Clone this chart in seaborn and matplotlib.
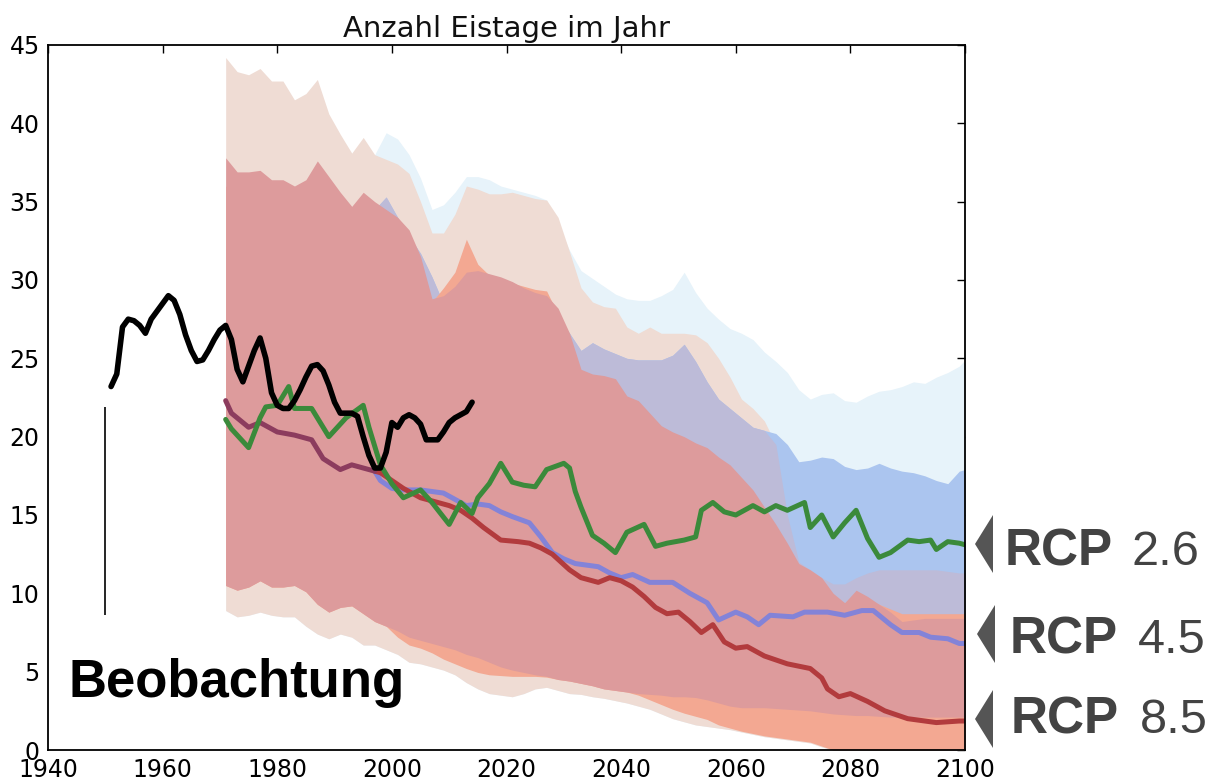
import numpy as np
import pandas as pd
import matplotlib
matplotlib.use("Agg")
import matplotlib.pyplot as plt
import seaborn as sns
from matplotlib.patches import Polygon

sns.set_theme(style="white")
plt.rcParams['font.family'] = ['DejaVu Sans']

# ---------------- data ----------------
band_years = [1971, 1973, 1975, 1977, 1979, 1981, 1983, 1985, 1987, 1989,
              1991, 1993, 1995, 1997, 1999, 2001, 2003, 2005, 2007, 2009,
              2011, 2013, 2015, 2017, 2019, 2021, 2023, 2025, 2027, 2029,
              2031, 2033, 2035, 2037, 2039, 2041, 2043, 2045, 2047, 2049,
              2051, 2053, 2055, 2057, 2059, 2061, 2063, 2065, 2067, 2069,
              2071, 2073, 2075, 2077, 2079, 2081, 2083, 2085, 2087, 2089,
              2091, 2093, 2095, 2097, 2099, 2100]

# RCP 2.6 outer range (light blue), upper edge
rcp26_outer_up = [37.0, 37.0, 37.0, 37.0, 37.0, 37.0, 37.0, 37.0, 37.0, 37.0,
                  37.0, 37.0, 37.0, 38.0, 39.4, 39.0, 38.0, 36.5, 34.5, 34.8,
                  35.6, 36.6, 36.6, 36.4, 36.0, 35.8, 35.6, 35.4, 35.1, 33.5,
                  31.9, 30.6, 30.1, 29.6, 29.1, 28.8, 28.7, 28.7, 29.0, 29.4,
                  30.5, 29.2, 28.2, 27.5, 26.9, 26.6, 26.2, 25.4, 24.8, 24.1,
                  23.0, 22.4, 22.7, 22.8, 22.3, 22.2, 22.6, 22.9, 23.0, 23.2,
                  23.5, 23.4, 23.8, 24.1, 24.5, 24.9]

# outer range (beige)
outer_up = [44.2, 43.3, 43.1, 43.5, 42.7, 42.7, 41.5, 41.9, 42.8, 40.6,
            39.3, 38.1, 39.1, 38.0, 37.7, 37.4, 36.8, 35.0, 33.0, 33.0,
            34.2, 36.0, 35.8, 35.5, 35.5, 35.6, 35.4, 35.2, 35.1, 34.0,
            31.8, 29.5, 28.6, 28.3, 28.2, 27.0, 26.6, 27.0, 26.6, 26.6,
            26.6, 26.5, 26.0, 25.0, 23.8, 22.4, 21.8, 21.0, 19.5, 15.0,
            12.0, 11.5, 11.0, 10.6, 10.6, 11.0, 11.3, 11.5, 11.5, 11.5,
            11.5, 11.5, 11.5, 11.4, 11.3, 11.3]
outer_lo = [8.9, 8.5, 8.6, 8.8, 8.6, 8.5, 8.5, 7.9, 7.4, 7.1,
            7.4, 7.2, 6.7, 6.7, 6.4, 6.1, 5.6, 5.5, 5.3, 5.1,
            4.8, 4.3, 3.9, 3.6, 3.5, 3.4, 3.6, 3.9, 4.0, 3.8,
            3.6, 3.55, 3.4, 3.3, 3.15, 3.0, 2.8, 2.6, 2.3, 2.0,
            1.8, 1.6, 1.5, 1.4, 1.3, 1.15, 1.0, 0.85, 0.75, 0.65,
            0.55, 0.45, 0.2, 0.0, 0.0, 0.0, 0.0, 0.0, 0.0, 0.0,
            0.0, 0.0, 0.0, 0.0, 0.0, 0.0]

# RCP 2.6 inner range (blue)
rcp26_inner_up = [32.0, 32.0, 32.0, 32.0, 32.0, 32.0, 32.0, 32.0, 32.0, 32.5,
                  33.0, 33.5, 34.0, 34.5, 35.3, 34.0, 32.8, 31.7, 30.2, 28.5,
                  28.0, 28.0, 28.0, 28.0, 28.0, 28.0, 28.0, 28.0, 28.0, 27.6,
                  26.6, 25.5, 26.0, 25.6, 25.3, 25.0, 24.9, 24.9, 24.9, 25.2,
                  25.9, 24.8, 23.5, 22.4, 21.8, 21.2, 20.6, 20.4, 20.2, 19.5,
                  18.4, 18.5, 18.7, 18.6, 18.1, 17.9, 18.0, 18.3, 18.0, 17.8,
                  17.7, 17.5, 17.2, 17.0, 17.8, 17.9]
rcp26_inner_lo = [11.0, 11.0, 11.0, 11.0, 11.0, 11.0, 11.0, 11.0, 11.0, 11.0,
                  11.0, 11.0, 11.0, 11.0, 11.0, 11.0, 11.0, 11.0, 11.0, 11.0,
                  11.0, 11.0, 11.0, 11.0, 11.0, 11.0, 11.0, 11.0, 11.0, 11.0,
                  11.0, 11.0, 11.0, 11.0, 11.0, 11.0, 11.0, 11.0, 11.0, 11.0,
                  11.0, 11.0, 11.0, 11.0, 11.0, 11.0, 11.0, 11.0, 11.0, 10.5,
                  10.0, 9.5, 9.0, 8.5, 8.3, 8.2, 8.0, 8.0, 8.0, 8.0,
                  8.0, 8.0, 8.0, 8.0, 8.0, 8.0]

# RCP 8.5 outer range (salmon)
rcp85_outer_up = [36.0, 35.5, 35.5, 35.5, 35.0, 35.0, 35.0, 35.0, 35.0, 35.0,
                  34.5, 34.0, 34.0, 34.0, 33.5, 33.0, 32.5, 31.0, 28.6, 29.5,
                  30.5, 32.6, 31.0, 30.3, 30.0, 29.8, 29.6, 29.4, 29.3, 27.8,
                  26.4, 24.2, 23.8, 23.7, 23.5, 22.4, 22.0, 21.0, 20.0, 19.8,
                  19.5, 19.0, 18.8, 18.0, 17.5, 16.8, 16.0, 15.0, 14.0, 12.8,
                  11.5, 11.0, 10.5, 9.7, 9.4, 9.8, 9.6, 9.3, 9.0, 8.7,
                  8.7, 8.7, 8.7, 8.7, 8.7, 8.7]
rcp85_outer_lo = [10.5, 10.2, 10.4, 10.8, 10.4, 10.4, 10.5, 10.1, 9.3, 8.8,
                  9.1, 9.2, 8.7, 8.2, 7.9, 7.2, 6.7, 6.5, 6.2, 5.8,
                  5.5, 5.2, 4.95, 4.8, 4.75, 4.7, 4.7, 4.7, 4.65, 4.5,
                  4.4, 4.25, 4.1, 3.9, 3.8, 3.7, 3.5, 3.2, 2.9, 2.6,
                  2.35, 2.15, 1.95, 1.6, 1.4, 1.2, 1.05, 0.9, 0.8, 0.7,
                  0.6, 0.5, 0.25, 0.0, 0.0, 0.0, 0.0, 0.0, 0.0, 0.0,
                  0.0, 0.0, 0.0, 0.0, 0.0, 0.0]

# RCP 8.5 inner range (red)
rcp85_inner_up = [37.8, 36.9, 36.9, 37.0, 36.4, 36.4, 36.0, 36.4, 37.6, 36.6,
                  35.6, 34.7, 35.6, 35.0, 34.5, 34.0, 33.2, 31.5, 28.8, 29.0,
                  29.6, 30.5, 30.6, 30.4, 30.2, 29.9, 29.5, 29.2, 29.0, 28.2,
                  26.6, 24.3, 24.0, 23.9, 23.7, 22.6, 22.3, 21.5, 20.7, 20.3,
                  20.0, 19.6, 19.3, 18.7, 18.2, 17.4, 16.6, 15.5, 14.4, 13.2,
                  11.9, 11.5, 11.0, 10.0, 9.4, 10.2, 9.8, 9.3, 8.8, 8.2,
                  8.3, 8.4, 8.4, 8.4, 8.4, 8.4]
rcp85_inner_lo = [10.5, 10.2, 10.4, 10.8, 10.4, 10.4, 10.5, 10.1, 9.3, 8.8,
                  9.1, 9.2, 8.7, 8.2, 7.9, 7.6, 7.2, 7.0, 6.8, 6.6,
                  6.4, 6.1, 5.9, 5.6, 5.3, 5.1, 4.95, 4.8, 4.7, 4.5,
                  4.4, 4.25, 4.1, 3.9, 3.8, 3.7, 3.6, 3.55, 3.5, 3.4,
                  3.4, 3.35, 3.2, 3.0, 2.8, 2.7, 2.7, 2.7, 2.65, 2.6,
                  2.55, 2.5, 2.4, 2.3, 2.25, 2.2, 2.2, 2.15, 2.1, 2.1,
                  2.1, 2.1, 2.1, 2.1, 2.1, 2.1]

# observations (Beobachtung)
obs_years = [1951, 1952, 1953, 1954, 1955, 1956, 1957, 1958, 1959, 1960,
             1961, 1962, 1963, 1964, 1965, 1966, 1967, 1968, 1969, 1970,
             1971, 1972, 1973, 1974, 1975, 1976, 1977, 1978, 1979, 1980,
             1981, 1982, 1983, 1984, 1985, 1986, 1987, 1988, 1989, 1990,
             1991, 1992, 1993, 1994, 1995, 1996, 1997, 1998, 1999, 2000,
             2001, 2002, 2003, 2004, 2005, 2006, 2007, 2008, 2009, 2010,
             2011, 2012, 2013, 2014]
obs_values = [23.2, 24.0, 27.0, 27.5, 27.4, 27.1, 26.6, 27.5, 28.0, 28.5,
              29.0, 28.7, 27.8, 26.5, 25.5, 24.8, 24.9, 25.5, 26.2, 26.8,
              27.1, 26.2, 24.3, 23.5, 24.5, 25.5, 26.3, 25.0, 22.8, 22.0,
              21.8, 21.8, 22.3, 23.0, 23.8, 24.5, 24.6, 24.2, 23.3, 22.2,
              21.5, 21.5, 21.5, 21.3, 20.0, 18.8, 18.0, 18.0, 19.0, 20.9,
              20.6, 21.2, 21.4, 21.2, 20.8, 19.8, 19.8, 19.8, 20.3, 20.9,
              21.2, 21.4, 21.6, 22.2]
obs_bar_year = 1950
obs_bar_range = [8.6, 21.9]

# RCP 2.6 median
rcp26_years = [1971, 1972, 1975, 1977, 1978, 1980, 1982, 1983, 1986, 1989,
               1992, 1995, 1996, 1998, 2000, 2002, 2005, 2007, 2010, 2012,
               2014, 2015, 2017, 2019, 2021, 2023, 2025, 2027, 2030, 2031,
               2032, 2033, 2035, 2037, 2039, 2041, 2044, 2046, 2048, 2051,
               2053, 2054, 2056, 2058, 2060, 2063, 2065, 2067, 2069, 2072,
               2073, 2075, 2077, 2079, 2081, 2083, 2085, 2087, 2090, 2092,
               2094, 2095, 2097, 2099, 2100]
rcp26_values = [21.1, 20.5, 19.3, 21.2, 21.9, 22.0, 23.2, 21.8, 21.8, 20.0,
                21.2, 22.0, 20.6, 18.2, 17.0, 16.1, 16.6, 15.8, 14.4, 15.8,
                15.1, 16.1, 17.0, 18.3, 17.1, 16.9, 16.8, 17.9, 18.3, 18.0,
                16.5, 15.5, 13.7, 13.2, 12.6, 13.9, 14.4, 13.0, 13.2, 13.4,
                13.6, 15.3, 15.8, 15.2, 15.0, 15.6, 15.2, 15.6, 15.3, 15.8,
                14.2, 15.0, 13.6, 14.5, 15.3, 13.5, 12.3, 12.6, 13.4, 13.3,
                13.4, 12.8, 13.3, 13.2, 13.1]

# common historical median (RCP 4.5 and 8.5 overlap)
hist_years = [1971, 1972, 1975, 1977, 1980, 1983, 1986, 1988, 1991, 1993, 1995, 1997]
hist_values = [22.3, 21.5, 20.6, 20.9, 20.3, 20.1, 19.8, 18.6, 17.9, 18.2, 18.0, 17.8]

# RCP 4.5 median
rcp45_years = [1997, 1998, 2000, 2002, 2005, 2009, 2011, 2013, 2015, 2017,
               2019, 2021, 2024, 2026, 2028, 2030, 2032, 2036, 2038, 2040,
               2042, 2045, 2049, 2052, 2055, 2057, 2060, 2062, 2064, 2066,
               2070, 2072, 2076, 2079, 2082, 2084, 2087, 2089, 2092, 2094,
               2097, 2099, 2100]
rcp45_values = [17.8, 17.2, 16.7, 16.6, 16.6, 16.4, 16.0, 15.6, 15.7, 15.6,
                15.2, 14.9, 14.5, 13.6, 12.6, 12.2, 11.9, 11.7, 11.3, 11.0,
                11.2, 10.7, 10.7, 10.0, 9.4, 8.3, 8.8, 8.5, 8.0, 8.6,
                8.5, 8.8, 8.8, 8.6, 8.9, 8.9, 8.0, 7.5, 7.5, 7.2,
                7.1, 6.8, 6.8]

# RCP 8.5 median
rcp85_years = [1997, 1998, 2000, 2002, 2005, 2008, 2010, 2012, 2014, 2016,
               2019, 2022, 2024, 2026, 2028, 2031, 2033, 2036, 2038, 2040,
               2042, 2044, 2046, 2048, 2050, 2052, 2054, 2056, 2058, 2060,
               2062, 2065, 2069, 2073, 2075, 2076, 2078, 2080, 2083, 2086,
               2090, 2095, 2097, 2099, 2100]
rcp85_values = [17.8, 17.7, 17.2, 16.7, 16.1, 15.8, 15.6, 15.3, 14.8, 14.2,
                13.4, 13.3, 13.2, 12.9, 12.5, 11.5, 11.0, 10.7, 11.0, 10.8,
                10.4, 9.8, 9.1, 8.7, 8.8, 8.2, 7.5, 8.0, 6.9, 6.5,
                6.6, 6.0, 5.5, 5.2, 4.6, 3.9, 3.4, 3.6, 3.1, 2.5,
                2.0, 1.75, 1.8, 1.85, 1.85]

scenario_labels = ["2.6", "4.5", "8.5"]
title = "Anzahl Eistage im Jahr"
obs_label = "Beobachtung"
x_ticks = [1940, 1960, 1980, 2000, 2020, 2040, 2060, 2080, 2100]
y_ticks = [0, 5, 10, 15, 20, 25, 30, 35, 40, 45]

# ---------------- figure ----------------
W, H = 1210, 782
fig = plt.figure(figsize=(W / 100, H / 100), dpi=100)
ax = fig.add_axes([48 / W, 32 / H, 917 / W, 705 / H])

yrs = np.array(band_years)
ax.fill_between(yrs, outer_lo, rcp26_outer_up, color="#e7f3fa", lw=0)
ax.fill_between(yrs, outer_lo, outer_up, color="#efdcd4", lw=0)
ax.fill_between(yrs, rcp26_inner_lo, rcp26_inner_up, color="#abc5ef", lw=0)
purple_top = np.minimum(np.array(rcp26_inner_up), np.array(outer_up))
ax.fill_between(yrs, rcp26_inner_lo, purple_top,
                where=purple_top > np.array(rcp26_inner_lo), interpolate=True,
                color="#bdbbd8", lw=0)
ax.fill_between(yrs, rcp85_outer_lo, rcp85_outer_up, color="#f3a892", lw=0)
ax.fill_between(yrs, rcp85_inner_lo, rcp85_inner_up, color="#dd9b9c", lw=0)

lw = 3.6
sns.lineplot(x=rcp45_years, y=rcp45_values, ax=ax, color="#8383d8", lw=lw)
sns.lineplot(x=rcp85_years, y=rcp85_values, ax=ax, color="#b23b3d", lw=lw)
sns.lineplot(x=hist_years, y=hist_values, ax=ax, color="#8c3c5e", lw=lw)
sns.lineplot(x=rcp26_years, y=rcp26_values, ax=ax, color="#3b8a3b", lw=lw)
sns.lineplot(x=obs_years, y=obs_values, ax=ax, color="black", lw=4.0)
ax.vlines(obs_bar_year, obs_bar_range[0], obs_bar_range[1], color="black", lw=1.2)

ax.set_xlim(1940, 2100)
ax.set_ylim(0, 45)
ax.set_xticks(x_ticks)
ax.set_yticks(y_ticks)
ax.set_xlabel("")
ax.set_ylabel("")
ax.tick_params(direction="in", length=6, width=1, top=True, right=True,
               labelsize=17, colors="black", pad=6)
for s in ax.spines.values():
    s.set_visible(True)
    s.set_color("black")
    s.set_linewidth(1.3)
ax.set_title(title, fontsize=21, pad=6, color="#111111")

# Observation label
fig.text(68 / W, (H - 697) / H, obs_label, fontsize=38, fontweight="bold",
         family=["Liberation Sans", "DejaVu Sans"], va="baseline", color="black")

# RCP labels with triangles
rows = [(565, 1005, 1132, 975, 515, 573),
        (653, 1010, 1138, 977, 605, 663),
        (733, 1011, 1140, 975, 690, 748)]
for lab, (base, xr, xn, tx, ty0, ty1) in zip(scenario_labels, rows):
    fig.text(xr / W, (H - base) / H, "RCP", fontsize=37, fontweight="bold",
             family=["Liberation Sans", "DejaVu Sans"], va="baseline", color="#434343")
    fig.text(xn / W, (H - base) / H, lab, fontsize=35,
             family=["Liberation Sans", "DejaVu Sans"], va="baseline", color="#434343")
    tri = Polygon([((tx + 18) / W, (H - ty0) / H),
                   (tx / W, (H - (ty0 + ty1) / 2) / H),
                   ((tx + 18) / W, (H - ty1) / H)],
                  closed=True, transform=fig.transFigure, color="#555555", lw=0)
    fig.patches.append(tri)

fig.savefig("out.png", dpi=100, facecolor="white")
